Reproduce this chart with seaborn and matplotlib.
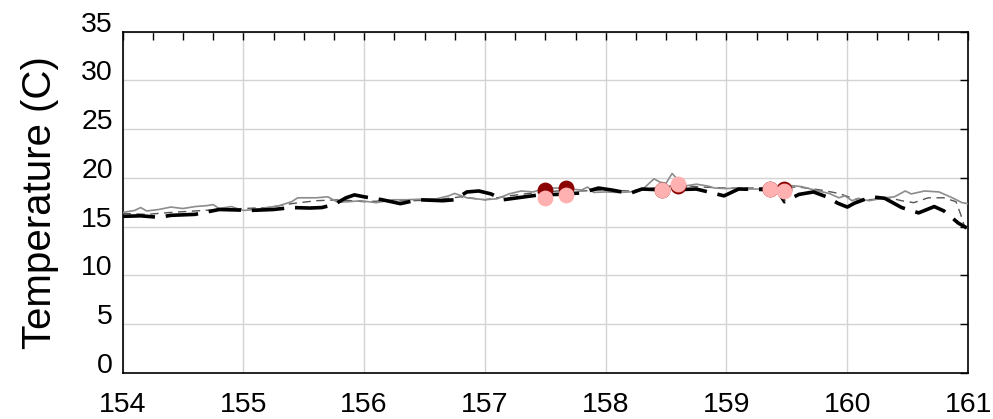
import matplotlib
matplotlib.use("Agg")
import matplotlib.pyplot as plt
import seaborn as sns
import pandas as pd
from matplotlib.ticker import MultipleLocator

# ---- data ----
gray_x = [154.0,154.1,154.15,154.2,154.3,154.4,154.5,154.6,154.7,154.75,154.8,154.9,155.0,155.1,155.2,155.3,155.4,155.45,155.5,155.6,155.7,155.78,155.88,155.97,156.1,156.24,156.35,156.45,156.6,156.7,156.75,156.85,157.0,157.1,157.2,157.3,157.4,157.5,157.6,157.7,157.8,157.85,157.9,158.0,158.1,158.2,158.3,158.4,158.45,158.5,158.55,158.6,158.65,158.75,158.85,158.9,159.0,159.1,159.2,159.3,159.4,159.54,159.62,159.76,159.85,159.93,159.98,160.04,160.09,160.18,160.31,160.39,160.48,160.53,160.64,160.76,160.87,160.95,161.0]
gray_y = [16.45,16.65,16.95,16.6,16.75,17.0,16.85,17.05,17.15,17.25,16.85,17.05,16.65,16.75,16.95,17.15,17.55,17.95,17.95,17.95,18.05,17.5,17.55,17.65,17.45,17.75,17.75,17.8,17.85,18.15,18.4,17.95,17.75,17.85,18.35,18.65,18.55,18.95,18.95,18.85,18.75,19.05,18.5,18.55,18.5,18.55,18.75,19.9,19.55,19.45,20.45,19.75,19.15,19.35,19.15,18.95,18.9,18.95,18.85,18.85,19.05,19.2,19.1,18.65,18.4,17.95,18.15,17.65,17.9,17.65,17.95,18.05,18.65,18.35,18.65,18.55,17.95,17.45,17.35]

dash_x = [154.0,154.2,154.4,154.6,154.8,155.0,155.2,155.4,155.6,155.8,156.0,156.2,156.4,156.6,156.8,157.0,157.2,157.4,157.6,157.8,158.0,158.2,158.4,158.6,158.8,159.0,159.2,159.4,159.6,159.78,159.93,160.1,160.35,160.45,160.55,160.67,160.8,160.9,160.94,160.97,161.0]
dash_y = [16.35,16.25,16.45,16.6,16.75,16.85,16.95,17.35,17.65,17.75,17.55,17.65,17.65,17.75,18.05,17.75,18.15,18.45,18.65,18.65,18.75,18.65,18.95,19.25,19.05,18.95,18.95,19.05,19.05,18.75,18.4,17.65,17.95,17.65,17.45,17.95,17.95,17.55,16.2,15.0,14.85]

black_x = [154.0,154.15,154.3,154.4,154.6,154.8,154.95,155.05,155.25,155.4,155.55,155.65,155.75,155.85,155.92,156.0,156.15,156.3,156.45,156.65,156.75,156.85,156.95,157.05,157.15,157.3,157.45,157.6,157.8,157.94,158.05,158.2,158.3,158.5,158.75,158.85,158.98,159.1,159.3,159.42,159.48,159.6,159.72,159.84,159.92,160.0,160.06,160.2,160.31,160.45,160.59,160.72,160.8,160.92,160.99]
black_y = [16.05,16.1,15.95,16.15,16.25,16.75,16.7,16.65,16.75,16.95,16.9,16.95,17.25,17.95,18.25,18.05,17.75,17.35,17.75,17.65,17.75,18.55,18.65,18.35,17.75,18.0,18.25,18.3,18.45,18.95,18.75,18.4,18.85,18.75,18.85,18.55,18.15,18.85,18.8,18.75,17.55,18.3,18.55,18.0,17.4,17.0,17.4,18.05,17.9,16.95,16.4,17.05,16.6,15.35,14.85]

obs_x = [157.5, 157.67, 158.47, 158.6, 159.36, 159.48]
obs_dark_y = [18.7, 19.0, 18.8, 19.2, 18.9, 18.9]
obs_pink_y = [17.95, 18.2, 18.75, 19.35, 18.9, 18.65]

x_ticks = [154, 155, 156, 157, 158, 159, 160, 161]
y_ticks = [0, 5, 10, 15, 20, 25, 30, 35]
y_label = "Temperature (C)"

# ---- style ----
sns.set_style("white")
plt.rcParams["font.family"] = ["Liberation Sans", "DejaVu Sans"]
plt.rcParams["text.color"] = "black"
plt.rcParams["axes.labelcolor"] = "black"
plt.rcParams["xtick.color"] = "black"
plt.rcParams["ytick.color"] = "black"

fig = plt.figure(figsize=(9.93, 4.19), dpi=100)
ax = fig.add_axes([0.1234, 0.1105, 0.8515, 0.8139])

df_gray = pd.DataFrame({"x": gray_x, "y": gray_y})
df_dash = pd.DataFrame({"x": dash_x, "y": dash_y})
df_black = pd.DataFrame({"x": black_x, "y": black_y})
df_obs = pd.DataFrame({"x": obs_x, "dark": obs_dark_y, "pink": obs_pink_y})

sns.lineplot(data=df_dash, x="x", y="y", ax=ax, color="#555555", lw=1.0,
             linestyle=(0, (6, 4)), estimator=None, zorder=3)
sns.lineplot(data=df_gray, x="x", y="y", ax=ax, color="#8c8c8c", lw=1.2,
             estimator=None, zorder=3)
sns.lineplot(data=df_black, x="x", y="y", ax=ax, color="black", lw=2.6,
             linestyle=(0, (9, 3)), estimator=None, zorder=4)
sns.scatterplot(data=df_obs, x="x", y="dark", ax=ax, color="#8b0000", s=130,
                linewidth=0, zorder=5)
sns.scatterplot(data=df_obs, x="x", y="pink", ax=ax, color="#ffb0b0", s=130,
                linewidth=0, zorder=6)

ax.set_xlim(154, 161)
ax.set_ylim(0, 35)
ax.set_xticks(x_ticks)
ax.set_xticklabels([str(t) for t in x_ticks])
ax.set_yticks(y_ticks)
ax.set_yticklabels([str(t) for t in y_ticks])
ax.xaxis.set_minor_locator(MultipleLocator(0.25))
ax.grid(True, which="major", color="#d3d3d3", lw=1.0, zorder=0)
ax.set_axisbelow(True)
for s in ax.spines.values():
    s.set_visible(True)
    s.set_color("black")
    s.set_linewidth(1.2)
ax.tick_params(axis="both", which="both", direction="in", top=True, right=True,
               length=6, width=1, color="black", labelcolor="black",
               labelsize=20.5, pad=7)
ax.tick_params(axis="x", which="major", pad=14)
for lab in ax.get_yticklabels():
    lab.set_verticalalignment("baseline")
ax.set_xlabel("")
ax.set_ylabel(y_label, fontsize=29, labelpad=16, color="black")

fig.savefig("out.png", dpi=100)
